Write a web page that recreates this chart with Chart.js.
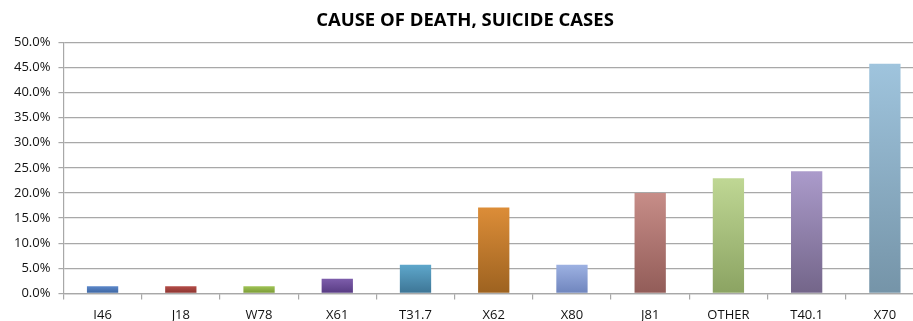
<!DOCTYPE html>
<html>
<head>
<meta charset="utf-8">
<script src="https://cdn.jsdelivr.net/npm/chart.js@4"></script>
<style>
  html, body { margin: 0; padding: 0; background: #fff; overflow: hidden; }
  #wrap { width: 940px; height: 331px; }
</style>
</head>
<body>
<div id="wrap"><canvas id="deathChart"></canvas></div>
<script>
// Cause of death codes and share of suicide cases (%)
const causes = ['I46', 'J18', 'W78', 'X61', 'T31.7', 'X62', 'X80', 'J81', 'OTHER', 'T40.1', 'X70'];
const shares = [1.4, 1.4, 1.4, 2.9, 5.7, 17.1, 5.7, 20.0, 22.9, 24.3, 45.7];
// top / bottom colours of each bar's gradient
const topColors = ['#5b87c9', '#b34c47', '#9fc355', '#7d5dab', '#5ea7cb', '#dc8d38', '#9db1e2', '#c78d88', '#bfd794', '#ab9bcb', '#9fc4dd'];
const bottomColors = ['#3b64a0', '#8a332f', '#789833', '#573b82', '#3d7595', '#9d6220', '#6f85bd', '#925c58', '#8ba362', '#736589', '#7594a8'];

// gradient runs over the bar's own height
function barFill(ctx) {
	const chart = ctx.chart;
	const i = ctx.dataIndex;
	if (!chart.chartArea || !chart.scales.y) return topColors[i];
	const y = chart.scales.y;
	const g = chart.ctx.createLinearGradient(0, y.getPixelForValue(shares[i]), 0, y.getPixelForValue(0));
	g.addColorStop(0, topColors[i]);
	g.addColorStop(1, bottomColors[i]);
	return g;
}

new Chart(document.getElementById('deathChart'), {
	type: 'bar',
	data: {
		labels: causes,
		datasets: [{
			label: 'Suicide cases',
			data: shares,
			backgroundColor: barFill,
			borderWidth: 0,
			barPercentage: 0.4,
			categoryPercentage: 1.0
		}]
	},
	options: {
		responsive: true,
		maintainAspectRatio: false,
		animation: false,
		layout: { padding: { left: 6, right: 16, top: 0, bottom: 0 } },
		plugins: {
			legend: { display: false },
			tooltip: { enabled: false },
			title: {
				display: true,
				text: 'CAUSE OF DEATH, SUICIDE CASES',
				color: '#000',
				font: { family: 'Open Sans', size: 18.5, weight: 'bold' },
				padding: { top: 10, bottom: 10 }
			}
		},
		scales: {
			y: {
				min: 0,
				max: 50,
				ticks: {
					stepSize: 5,
					color: '#111',
					font: { family: 'Open Sans', size: 13 },
					padding: 8,
					callback: v => v.toFixed(1) + '%'
				},
				grid: { color: '#a8a8a8', lineWidth: 1.2, tickLength: 5 },
				border: { color: '#a8a8a8', width: 1.2 }
			},
			x: {
				ticks: {
					color: '#111',
					font: { family: 'Open Sans', size: 13 },
					padding: 8
				},
				grid: { offset: true, drawOnChartArea: false, color: '#a8a8a8', lineWidth: 1.2, tickLength: 6 },
				border: { color: '#a8a8a8', width: 1.2 }
			}
		}
	}
});
</script>
</body>
</html>
